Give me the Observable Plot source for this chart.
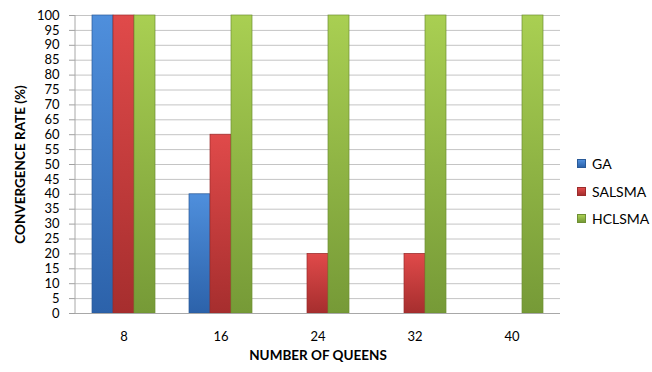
<!DOCTYPE html>
<html><head><meta charset="utf-8">
<script src="https://cdn.jsdelivr.net/npm/d3@7"></script>
<script src="https://cdn.jsdelivr.net/npm/@observablehq/plot@0.6"></script>
<style>
body{margin:0;background:#fff;}
#wrap{position:relative;width:652px;height:372px;font-family:Lato,"Open Sans",sans-serif;}
#wrap svg{display:block;}
g[aria-label="y-axis label"] text, g[aria-label="fx-axis label"] text{font-weight:bold;font-size:13.5px;}
g[aria-label="y-axis tick"] path{stroke:#a0a0a0;}
.legend{position:absolute;left:577px;top:150px;font-size:14px;color:#000;}
.legend div{display:flex;align-items:center;height:27.5px;}
.legend span.sw{display:inline-block;width:7px;height:7px;margin-right:6px;border:1px solid;}
</style></head><body><div id="wrap"></div>
<script>
const categories = ["8", "16", "24", "32", "40"];
const seriesNames = ["GA", "SALSMA", "HCLSMA"];
const gaValues = [100, 40, 0, 0, 0];
const salsmaValues = [100, 60, 20, 20, 0];
const hclsmaValues = [100, 100, 100, 100, 100];
const yTicks = [0, 5, 10, 15, 20, 25, 30, 35, 40, 45, 50, 55, 60, 65, 70, 75, 80, 85, 90, 95, 100];
const palette = {
  GA: {top: "#4f8fdc", bottom: "#2c62aa", stroke: "#2a5a98"},
  SALSMA: {top: "#e04a4a", bottom: "#a62e2e", stroke: "#9a2c2c"},
  HCLSMA: {top: "#a9cf52", bottom: "#769a37", stroke: "#6e8f33"}
};

const valuesBySeries = {GA: gaValues, SALSMA: salsmaValues, HCLSMA: hclsmaValues};
const rows = [];
categories.forEach((c, i) => {
  seriesNames.forEach(s => rows.push({cat: c, series: s, value: valuesBySeries[s][i]}));
});

const chart = Plot.plot({
  width: 652, height: 372,
  marginLeft: 75, marginRight: 92, marginTop: 15, marginBottom: 59,
  style: {fontFamily: "Lato, 'Open Sans', sans-serif", fontSize: "13px", color: "#000", background: "#fff", overflow: "visible"},
  fx: {domain: categories, padding: 0, axis: "bottom", tickSize: 0, tickPadding: 18,
       label: "NUMBER OF QUEENS", labelAnchor: "center", labelOffset: 46, labelArrow: false},
  x: {domain: seriesNames, paddingInner: 0, paddingOuter: 0.77, axis: null},
  y: {domain: [0, 100], ticks: yTicks, tickSize: 6, tickPadding: 10, tickFormat: d => String(d),
      label: "CONVERGENCE RATE (%)", labelAnchor: "center", labelOffset: 60, labelArrow: false},
  marks: [
    Plot.ruleY(yTicks.slice(1), {stroke: "#c4c4c4"}),
    ...seriesNames.map(s => Plot.barY(rows.filter(r => r.series === s && r.value > 0), {
      fx: "cat", x: "series", y: "value",
      fill: `url(#grad-${s})`, stroke: palette[s].stroke, strokeWidth: 0.7
    })),
    Plot.ruleY([0], {stroke: "#a8a8a8"})
  ]
});

const svg = d3.select(chart);
// strip any arrow glyph that the axis label may carry
svg.selectAll('g[aria-label="y-axis label"] text, g[aria-label="fx-axis label"] text').each(function() {
  const t = d3.select(this);
  t.text(t.text().replace(/\s*[↑→↓←]\s*/g, "").trim());
});
const defs = svg.insert("defs", ":first-child");
seriesNames.forEach(s => {
  const g = defs.append("linearGradient").attr("id", `grad-${s}`)
    .attr("x1", 0).attr("y1", 0).attr("x2", 0).attr("y2", 1);
  g.append("stop").attr("offset", "0%").attr("stop-color", palette[s].top);
  g.append("stop").attr("offset", "100%").attr("stop-color", palette[s].bottom);
});
svg.append("line").attr("x1", 75).attr("x2", 75).attr("y1", 15).attr("y2", 313)
  .attr("stroke", "#a8a8a8");

const wrap = document.getElementById("wrap");
wrap.appendChild(chart);
const legend = document.createElement("div");
legend.className = "legend";
seriesNames.forEach(s => {
  const item = document.createElement("div");
  const sw = document.createElement("span");
  sw.className = "sw";
  sw.style.background = `linear-gradient(${palette[s].top}, ${palette[s].bottom})`;
  sw.style.borderColor = palette[s].stroke;
  item.appendChild(sw);
  item.appendChild(document.createTextNode(s));
  legend.appendChild(item);
});
wrap.appendChild(legend);
</script></body></html>
